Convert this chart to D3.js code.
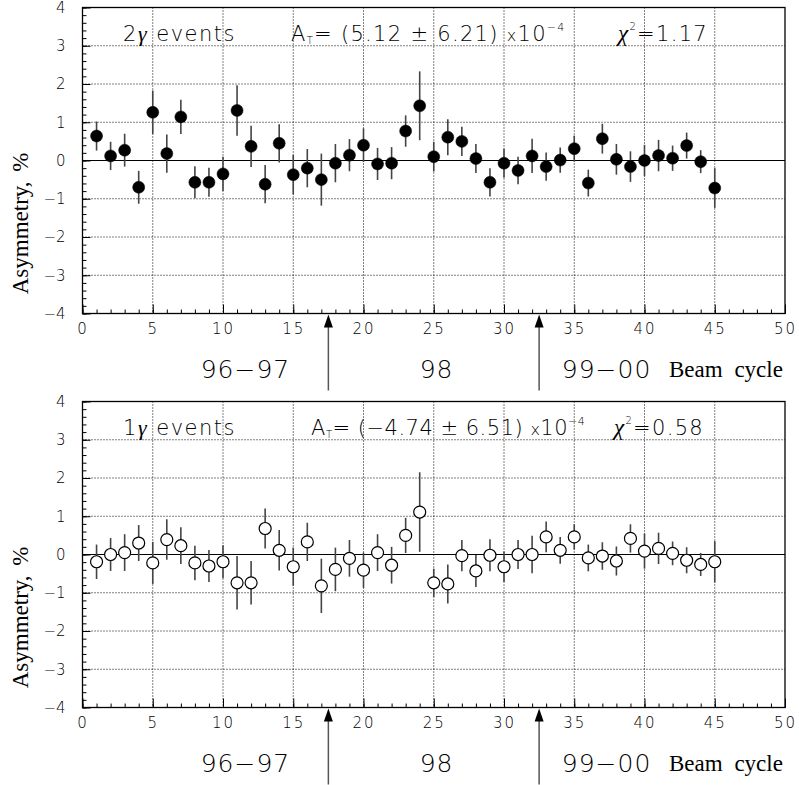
<!DOCTYPE html>
<html>
<head>
<meta charset="utf-8">
<script src="https://cdn.jsdelivr.net/npm/d3@7"></script>
<style>
  body { margin: 0; background: #fff; }
  .tick text { font-family: "DejaVu Sans", sans-serif; font-weight: 200; fill: #000; }
  .thin { font-family: "DejaVu Sans", sans-serif; font-weight: 200; fill: #000; }
  .serif { font-family: "Liberation Serif", "Times New Roman", serif; fill: #000; }
</style>
</head>
<body>
<div id="chart"></div>
<script>
// Beam cycle numbers
const cycles = [1, 2, 3, 4, 5, 6, 7, 8, 9, 10, 11, 12, 13, 14, 15, 16, 17, 18, 19, 20,
    21, 22, 23, 24, 25, 26, 27, 28, 29, 30, 31, 32, 33, 34, 35, 36, 37, 38, 39, 40,
    41, 42, 43, 44, 45];

// 2 gamma events: asymmetry (%) and error
const asym2g = [0.64, 0.12, 0.27, -0.70, 1.26, 0.18, 1.14, -0.57, -0.57, -0.35,
    1.31, 0.37, -0.62, 0.45, -0.37, -0.20, -0.50, -0.07, 0.14, 0.40,
    -0.09, -0.07, 0.77, 1.43, 0.10, 0.61, 0.50, 0.05, -0.57, -0.07,
    -0.26, 0.12, -0.16, 0.01, 0.31, -0.59, 0.57, 0.03, -0.16, 0.00,
    0.13, 0.06, 0.39, -0.03, -0.72];
const err2g = [0.38, 0.37, 0.43, 0.43, 0.57, 0.50, 0.45, 0.42, 0.38, 0.45,
    0.66, 0.54, 0.50, 0.50, 0.52, 0.50, 0.68, 0.50, 0.42, 0.44,
    0.42, 0.42, 0.41, 0.90, 0.39, 0.47, 0.38, 0.38, 0.37, 0.38,
    0.36, 0.45, 0.37, 0.33, 0.34, 0.35, 0.39, 0.40, 0.40, 0.41,
    0.41, 0.33, 0.34, 0.30, 0.52];

// 1 gamma events: asymmetry (%) and error
const asym1g = [-0.19, 0.00, 0.05, 0.30, -0.22, 0.39, 0.23, -0.22, -0.30, -0.19,
    -0.74, -0.74, 0.68, 0.11, -0.32, 0.33, -0.82, -0.39, -0.10, -0.41,
    0.05, -0.28, 0.50, 1.11, -0.74, -0.77, -0.03, -0.43, -0.02, -0.32,
    0.00, 0.00, 0.46, 0.11, 0.46, -0.09, -0.04, -0.17, 0.42, 0.09,
    0.16, 0.03, -0.15, -0.26, -0.19];
const err1g = [0.45, 0.43, 0.48, 0.47, 0.55, 0.53, 0.48, 0.45, 0.42, 0.43,
    0.70, 0.57, 0.52, 0.53, 0.50, 0.50, 0.71, 0.57, 0.48, 0.46,
    0.48, 0.48, 0.46, 1.04, 0.37, 0.51, 0.41, 0.42, 0.42, 0.40,
    0.38, 0.49, 0.40, 0.35, 0.33, 0.35, 0.36, 0.38, 0.37, 0.46,
    0.41, 0.31, 0.34, 0.30, 0.54];

// axis ticks
const xTicks = [0, 5, 10, 15, 20, 25, 30, 35, 40, 45, 50];
const xGrid = [5, 10, 15, 20, 25, 30, 35, 40, 45];
const yTicks = [-4, -3, -2, -1, 0, 1, 2, 3, 4];
const yGrid = [-3, -2, -1, 1, 2, 3];

// beam periods
const periodBounds = [17.5, 32.5];
const periodLabels = ["96\u221297", "98", "99\u221200"];
const periodCenters = [11.6, 25.2, 37.3];

// panel texts
const eventLabels = ["2", "1"];
const fitValues = ["(5.12 \u00b1 6.21)", "(\u22124.74 \u00b1 6.51)"];
const chiValues = ["1.17", "0.58"];

const width = 799, height = 785;
const svg = d3.select("#chart").append("svg")
    .attr("width", width)
    .attr("height", height);

const x = d3.scaleLinear().domain([0, 50]).range([82.5, 785]);
const panelH = 306;

const panels = [
    { top: 7.5, vals: asym2g, errs: err2g, filled: true, label: eventLabels[0],
      fit: fitValues[0], chi: chiValues[0], fitX: 291, chiX: 618, fitSpacing: 1.3 },
    { top: 401.5, vals: asym1g, errs: err1g, filled: false, label: eventLabels[1],
      fit: fitValues[1], chi: chiValues[1], fitX: 311, chiX: 614, fitSpacing: 0.5 }
];

panels.forEach(p => {
    const y = d3.scaleLinear().domain([-4, 4]).range([p.top + panelH, p.top]);
    const bottom = p.top + panelH;
    const g = svg.append("g");

    // dotted grid
    g.selectAll(".vgrid").data(xGrid).enter().append("line")
        .attr("x1", d => x(d)).attr("x2", d => x(d))
        .attr("y1", p.top).attr("y2", bottom)
        .attr("stroke", "#000").attr("stroke-width", 1)
        .attr("stroke-dasharray", "1,2");
    g.selectAll(".hgrid").data(yGrid).enter().append("line")
        .attr("x1", x(0)).attr("x2", x(50))
        .attr("y1", d => y(d)).attr("y2", d => y(d))
        .attr("stroke", "#000").attr("stroke-width", 1)
        .attr("stroke-dasharray", "1,2");

    // zero line
    g.append("line")
        .attr("x1", x(0)).attr("x2", x(50))
        .attr("y1", y(0)).attr("y2", y(0))
        .attr("stroke", "#000").attr("stroke-width", 1.2);

    // y axis: minor + major ticks pointing inward
    g.append("g")
        .attr("transform", `translate(${x(0)},0)`)
        .call(d3.axisLeft(y).ticks(40).tickSize(-4).tickFormat(""))
        .call(a => a.select(".domain").remove())
        .selectAll("line").attr("stroke-width", 1);
    g.append("g")
        .attr("transform", `translate(${x(0)},0)`)
        .call(d3.axisLeft(y).tickValues(yTicks).tickSize(-8).tickPadding(17)
            .tickFormat(d => d < 0 ? "\u2212" + Math.abs(d) : d))
        .call(a => a.select(".domain").remove())
        .selectAll("text").style("font-size", "15px");

    // x axis: minor + major ticks pointing up
    g.append("g")
        .attr("transform", `translate(0,${bottom})`)
        .call(d3.axisBottom(x).ticks(50).tickSize(-4).tickFormat(""))
        .call(a => a.select(".domain").remove());
    g.append("g")
        .attr("transform", `translate(0,${bottom})`)
        .call(d3.axisBottom(x).tickValues(xTicks).tickSize(-9).tickPadding(10))
        .call(a => a.select(".domain").remove())
        .selectAll("text")
        .style("font-size", "15px")
        .style("letter-spacing", "2px");

    // frame
    g.append("rect")
        .attr("x", x(0)).attr("y", p.top)
        .attr("width", x(50) - x(0)).attr("height", panelH)
        .attr("fill", "none").attr("stroke", "#000").attr("stroke-width", 1.3);

    // error bars
    g.selectAll(".err").data(cycles).enter().append("line")
        .attr("x1", d => x(d)).attr("x2", d => x(d))
        .attr("y1", (d, i) => y(p.vals[i] + p.errs[i]))
        .attr("y2", (d, i) => y(p.vals[i] - p.errs[i]))
        .attr("stroke", "#444").attr("stroke-width", 1.6);

    // markers
    g.selectAll(".pt").data(cycles).enter().append("circle")
        .attr("cx", d => x(d))
        .attr("cy", (d, i) => y(p.vals[i]))
        .attr("r", 6)
        .attr("fill", p.filled ? "#000" : "#fff")
        .attr("stroke", "#000")
        .attr("stroke-width", p.filled ? 0.5 : 1.2);

    // y title
    g.append("text")
        .attr("class", "serif")
        .attr("transform", `translate(28,${p.top + 145}) rotate(-90)`)
        .attr("text-anchor", "end")
        .style("font-size", "23px")
        .style("word-spacing", "4px")
        .text("Asymmetry, %");

    // annotations
    const textY = p.top + 33;
    const t1 = g.append("text").attr("class", "thin")
        .attr("x", 123).attr("y", textY)
        .style("font-size", "21px").style("letter-spacing", "1.5px");
    t1.append("tspan").text(p.label);
    t1.append("tspan").attr("font-style", "italic").attr("font-weight", 400)
        .attr("font-family", "Liberation Serif").style("font-size", "22px").text("\u03b3");
    t1.append("tspan").text(" events");

    const t2 = g.append("text").attr("class", "thin")
        .attr("x", p.fitX).attr("y", textY)
        .style("font-size", "21px").style("letter-spacing", p.fitSpacing + "px");
    t2.append("tspan").text("A");
    t2.append("tspan").attr("dy", 3).style("font-size", "10px").text("T");
    t2.append("tspan").attr("dy", -3).text("= " + p.fit + " ");
    t2.append("tspan").style("font-size", "16px").text("x");
    t2.append("tspan").text("10");
    t2.append("tspan").attr("dy", -10).style("font-size", "11px").text("\u22124");

    const t3 = g.append("text").attr("class", "thin")
        .attr("x", p.chiX).attr("y", textY)
        .style("font-size", "21px").style("letter-spacing", "1.3px");
    t3.append("tspan").attr("font-style", "italic").attr("font-weight", 400)
        .attr("font-family", "Liberation Serif").style("font-size", "23px").text("\u03c7");
    t3.append("tspan").attr("dy", -11).style("font-size", "10px").text("2");
    t3.append("tspan").attr("dy", 11).text("=" + p.chi);

    // period separators (arrows)
    g.selectAll(".arrow").data(periodBounds).enter().append("line")
        .attr("x1", d => x(d)).attr("x2", d => x(d))
        .attr("y1", bottom + 10).attr("y2", bottom + 77)
        .attr("stroke", "#555").attr("stroke-width", 1.5);
    g.selectAll(".head").data(periodBounds).enter().append("path")
        .attr("d", d => `M${x(d)},${bottom + 1} L${x(d) - 4.5},${bottom + 14} L${x(d) + 4.5},${bottom + 14} Z`)
        .attr("fill", "#000");

    // period labels
    g.selectAll(".period").data(periodLabels).enter().append("text")
        .attr("class", "thin")
        .attr("x", (d, i) => x(periodCenters[i]))
        .attr("y", bottom + 64)
        .attr("text-anchor", "middle")
        .style("font-size", "25px")
        .style("letter-spacing", "1px")
        .text(d => d);

    g.append("text")
        .attr("class", "serif")
        .attr("x", 669).attr("y", bottom + 63)
        .style("font-size", "23px")
        .style("word-spacing", "6px")
        .text("Beam cycle");
});
</script>
</body>
</html>
